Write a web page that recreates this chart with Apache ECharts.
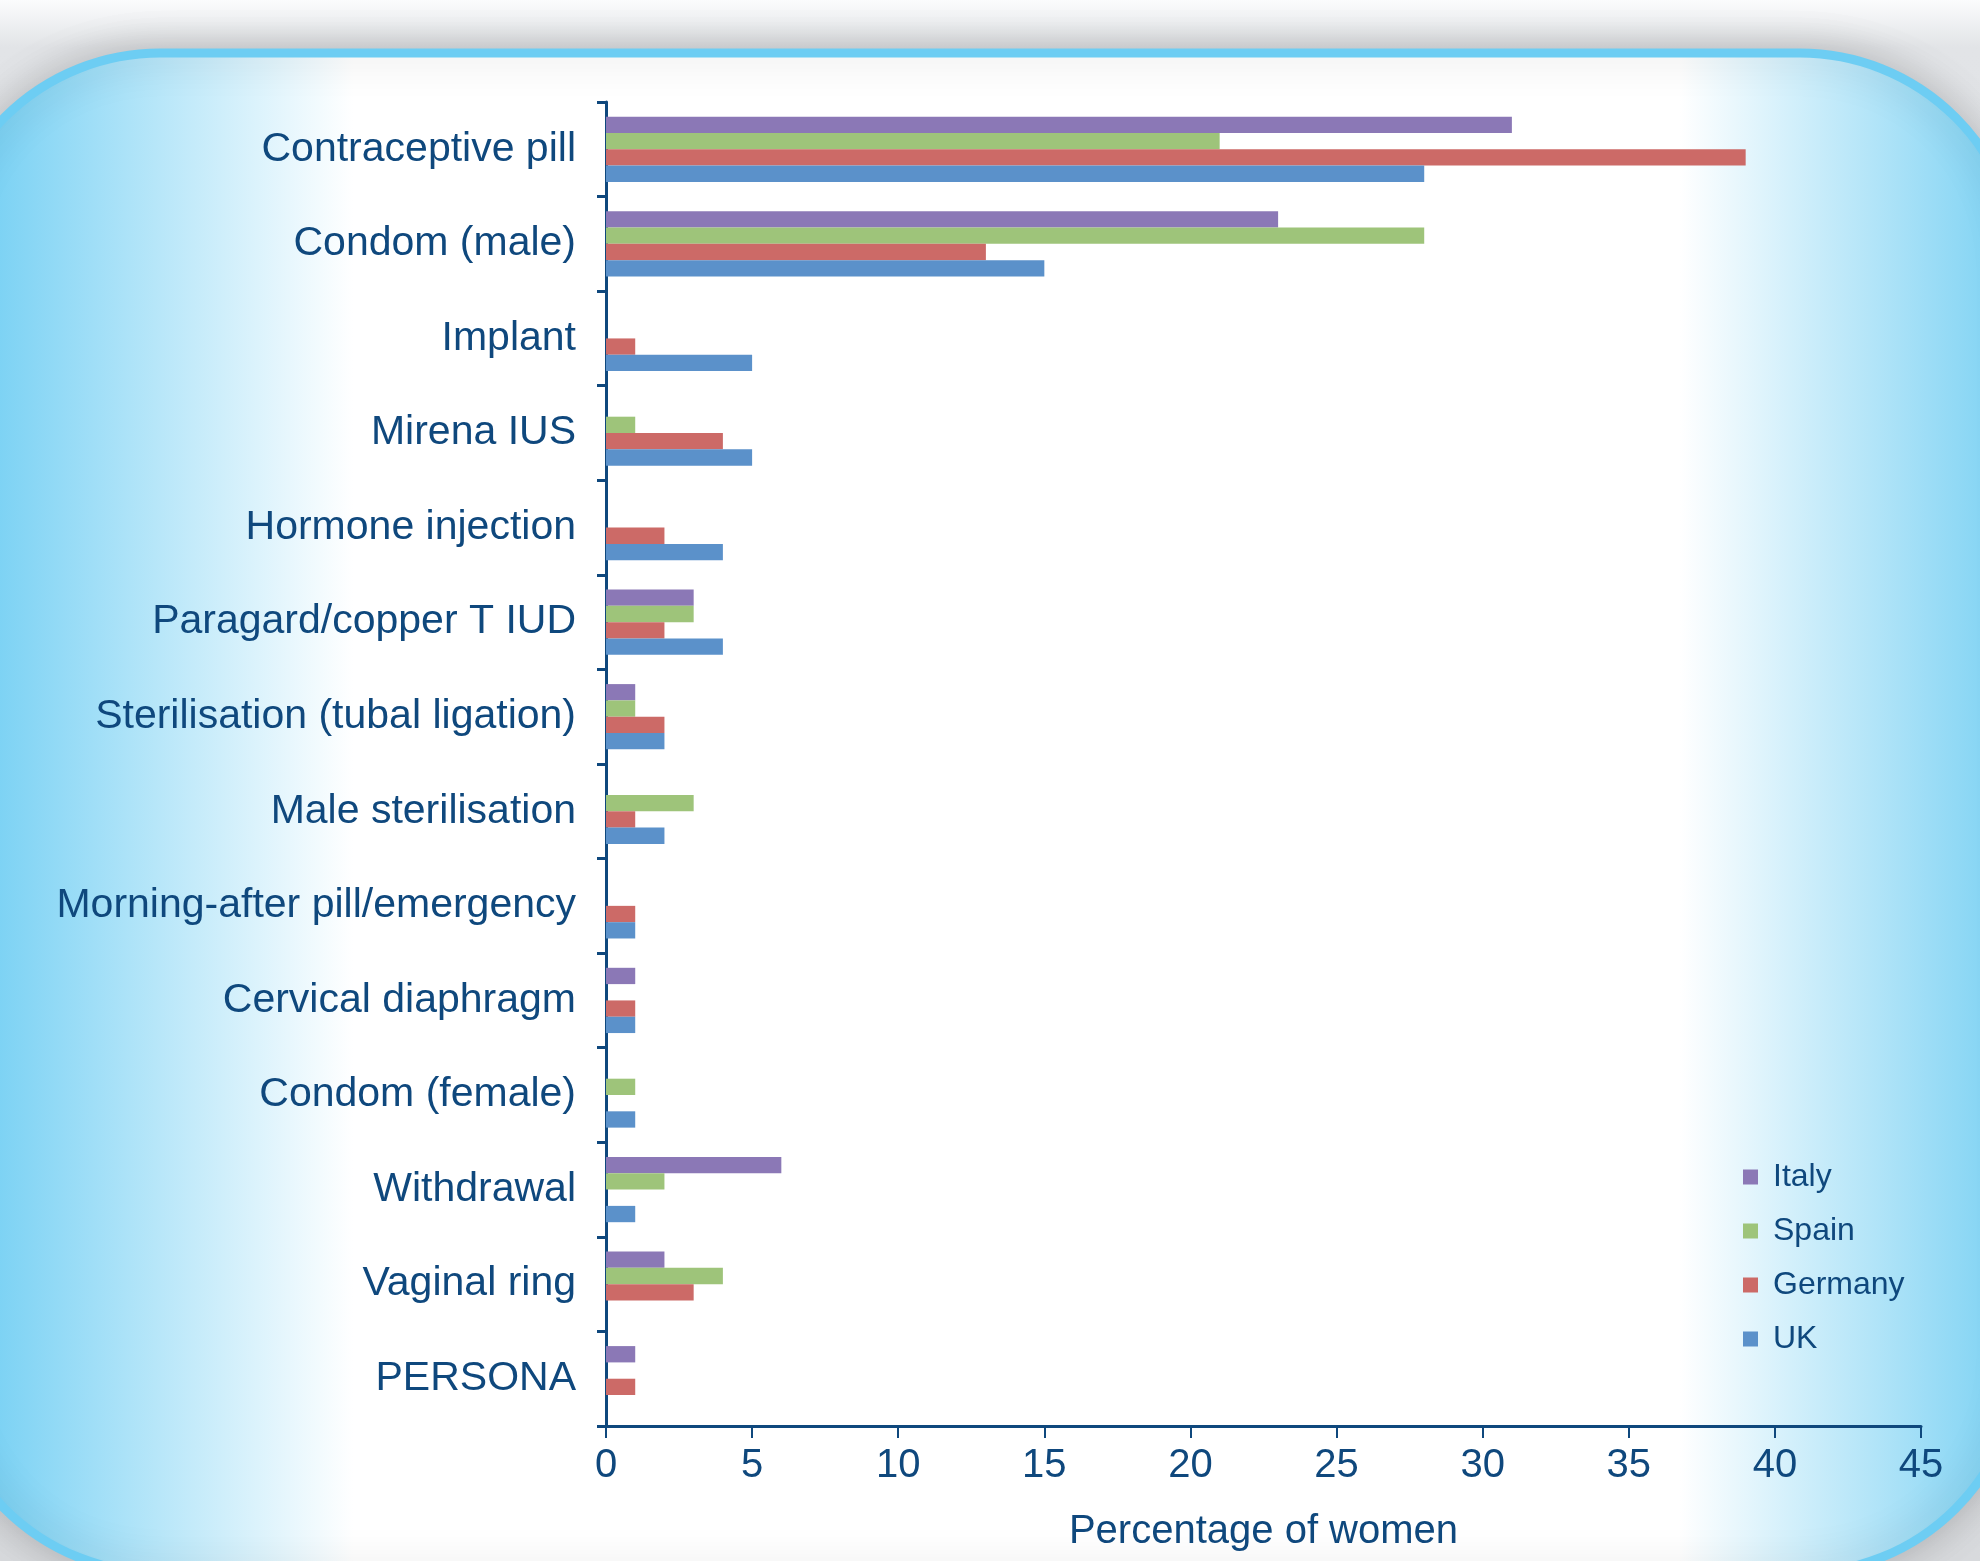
<!DOCTYPE html>
<html><head><meta charset="utf-8">
<script src="https://cdn.jsdelivr.net/npm/echarts@6/dist/echarts.min.js"></script>
<style>html,body{margin:0;padding:0;background:#fafbfc}#c{width:1980px;height:1561px}</style>
</head><body><div id="c"></div>
<script>
const categories = ['Contraceptive pill','Condom (male)','Implant','Mirena IUS','Hormone injection','Paragard/copper T IUD','Sterilisation (tubal ligation)','Male sterilisation','Morning-after pill/emergency','Cervical diaphragm','Condom (female)','Withdrawal','Vaginal ring','PERSONA'];
const italy   = [31, 23, 0, 0, 0, 3, 1, 0, 0, 1, 0, 6, 2, 1];
const spain   = [21, 28, 0, 1, 0, 3, 1, 3, 0, 0, 1, 2, 4, 0];
const germany = [39, 13, 1, 4, 2, 2, 2, 1, 1, 1, 0, 0, 3, 1];
const uk      = [28, 15, 5, 5, 4, 4, 2, 2, 1, 1, 1, 1, 0, 0];
const seriesNames = ['Italy','Spain','Germany','UK'];
const xTicks = [0,5,10,15,20,25,30,35,40,45];
const xTitle = 'Percentage of women';

const colors = ['#8b78b6','#9ec47a','#cc6a67','#5b91ca'];
const navy = '#0f487d';
const font = 'Liberation Sans, Arial, Helvetica, sans-serif';

const chart = echarts.init(document.getElementById('c'), null, {renderer:'canvas'});
const mk = (name, data, i) => ({
  name, type:'bar', data, barGap:'0%', barCategoryGap:'31%',
  itemStyle:{color:colors[i]}, emphasis:{disabled:true}
});
chart.setOption({
  animation:false,
  textStyle:{fontFamily:font},
  graphic:{elements:[
    {type:'rect', z:-20, shape:{x:0,y:0,width:1980,height:1561},
     style:{fill:new echarts.graphic.LinearGradient(0,0,0,1,[{offset:0,color:'#fbfcfd'},{offset:0.03,color:'#e2e4e7'},{offset:1,color:'#d8dadd'}])}},
    {type:'rect', z:-10, shape:{x:-60,y:53,width:2080,height:1520,r:220},
     style:{fill:new echarts.graphic.LinearGradient(0,0,1,0,[
       {offset:0,color:'#6fcdf3'},{offset:0.029,color:'#7cd2f4'},{offset:0.2,color:'#ffffff'},
       {offset:0.835,color:'#ffffff'},{offset:0.981,color:'#86d5f4'},{offset:1,color:'#7ad1f4'}]),
       stroke:'#6dcdf3', lineWidth:9, shadowBlur:40, shadowColor:'rgba(0,0,0,0.2)'}}
  ]},
  legend:{
    orient:'vertical', left:1738, top:1156, itemWidth:15, itemHeight:15, itemGap:22,
    icon:'rect', data:seriesNames,
    textStyle:{color:navy, fontSize:32, fontFamily:font, padding:[0,0,0,10], lineHeight:32}
  },
  grid:{left:606, right:59, top:102, bottom:135, containLabel:false},
  xAxis:{
    type:'value', min:0, max:45, interval:5,
    axisLine:{show:true, lineStyle:{color:navy, width:3}},
    axisTick:{show:true, length:12, lineStyle:{color:navy, width:2}},
    axisLabel:{color:navy, fontSize:40, margin:20, fontFamily:font,
      formatter:v=>xTicks.includes(v)?String(v):''},
    splitLine:{show:false},
    name:xTitle, nameLocation:'middle', nameGap:86,
    nameTextStyle:{color:navy, fontSize:40, fontFamily:font}
  },
  yAxis:{
    type:'category', data:categories, inverse:true,
    axisLine:{show:true, lineStyle:{color:navy, width:3}},
    axisTick:{show:true, length:9, lineStyle:{color:navy, width:3}},
    axisLabel:{color:navy, fontSize:41, margin:30, fontFamily:font, interval:0, padding:[18,0,0,0]}
  },
  series:[mk(seriesNames[0],italy,0),mk(seriesNames[1],spain,1),mk(seriesNames[2],germany,2),mk(seriesNames[3],uk,3)]
});
</script></body></html>
